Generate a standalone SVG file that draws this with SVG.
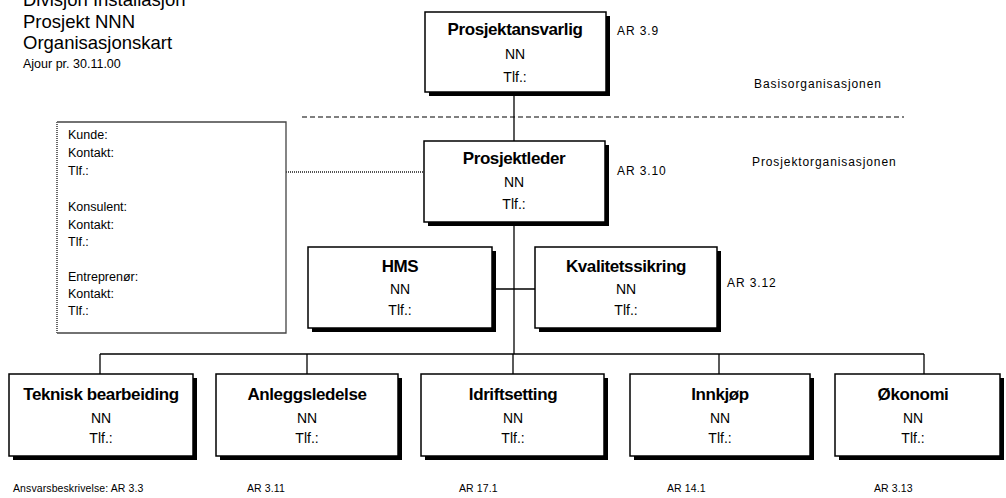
<svg xmlns="http://www.w3.org/2000/svg" width="1006" height="498" viewBox="0 0 1006 498">
  <style>
    text { font-family: "Liberation Sans", Arial, sans-serif; fill: #000; }
    .hdr { font-size: 18.5px; }
    .small { font-size: 12.5px; }
    .lbl { font-size: 12px; letter-spacing: 0.9px; }
    .foot { font-size: 10.5px; letter-spacing: 0.1px; }
    .ttl { font-size: 17px; font-weight: bold; text-anchor: middle; letter-spacing: -0.4px; }
    .sub { font-size: 14px; text-anchor: middle; }
    .box { fill: #fff; stroke: #000; stroke-width: 1.5; }
    .shadow { fill: #000; }
    .conn { stroke: #000; stroke-width: 1.3; fill: none; }
    .ctxt { font-size: 12.5px; }
  </style>

  <rect width="1006" height="498" fill="#fff"/>

  <!-- heading -->
  <g id="heading">
    <text class="hdr" x="23" y="6">Divisjon Installasjon</text>
    <text class="hdr" x="23" y="28">Prosjekt NNN</text>
    <text class="hdr" x="23" y="49">Organisasjonskart</text>
    <text class="small" x="23" y="68">Ajour pr. 30.11.00</text>
  </g>

  <!-- connectors -->
  <g id="connectors">
    <line class="conn" x1="514" y1="92" x2="514" y2="354"/>
    <line class="conn" x1="493" y1="289" x2="535" y2="289"/>
    <line class="conn" x1="100" y1="354" x2="924" y2="354"/>
    <line class="conn" x1="100" y1="354" x2="100" y2="374"/>
    <line class="conn" x1="307" y1="354" x2="307" y2="374"/>
    <line class="conn" x1="513" y1="354" x2="513" y2="374"/>
    <line class="conn" x1="719" y1="354" x2="719" y2="374"/>
    <line class="conn" x1="924" y1="354" x2="924" y2="374"/>
    <!-- dotted link from contacts box to project manager -->
    <line x1="286" y1="172" x2="424" y2="172" stroke="#555" stroke-width="2" stroke-dasharray="1,1"/>
  </g>

  <!-- boundary between base and project organisation -->
  <g id="divider">
    <line x1="302" y1="117" x2="904" y2="117" stroke="#000" stroke-width="1.2" stroke-dasharray="5,3"/>
    <text class="lbl" x="754" y="88">Basisorganisasjonen</text>
    <text class="lbl" x="752" y="166">Prosjektorganisasjonen</text>
  </g>

  <!-- contacts box -->
  <g id="kontakter">
    <rect x="57" y="122" width="229" height="211" fill="#fff"/>
    <path d="M57 122 H286 V333 H57" fill="none" stroke="#444" stroke-width="1.3"/>
    <line x1="57" y1="122" x2="57" y2="333" stroke="#666" stroke-width="2" stroke-dasharray="1,1"/>
    <text class="ctxt" x="68" y="139">Kunde:</text>
    <text class="ctxt" x="68" y="157">Kontakt:</text>
    <text class="ctxt" x="68" y="175">Tlf.:</text>
    <text class="ctxt" x="68" y="211">Konsulent:</text>
    <text class="ctxt" x="68" y="229">Kontakt:</text>
    <text class="ctxt" x="68" y="246">Tlf.:</text>
    <text class="ctxt" x="68" y="281">Entreprenør:</text>
    <text class="ctxt" x="68" y="298">Kontakt:</text>
    <text class="ctxt" x="68" y="315">Tlf.:</text>
  </g>

  <g id="prosjektansvarlig">
    <rect class="shadow" x="429" y="16" width="181" height="80"/>
    <rect class="box" x="425" y="12" width="181" height="80"/>
    <text class="ttl" x="515" y="35">Prosjektansvarlig</text>
    <text class="sub" x="515" y="59">NN</text>
    <text class="sub" x="515" y="82">Tlf.:</text>
    <text class="lbl" x="617" y="35">AR 3.9</text>
  </g>

  <g id="prosjektleder">
    <rect class="shadow" x="428" y="145" width="181" height="81"/>
    <rect class="box" x="424" y="141" width="181" height="81"/>
    <text class="ttl" x="514" y="164">Prosjektleder</text>
    <text class="sub" x="514" y="187">NN</text>
    <text class="sub" x="514" y="209">Tlf.:</text>
    <text class="lbl" x="617" y="175">AR 3.10</text>
  </g>

  <g id="hms">
    <rect class="shadow" x="312" y="251" width="184" height="81"/>
    <rect class="box" x="308" y="247" width="184" height="81"/>
    <text class="ttl" x="400" y="272">HMS</text>
    <text class="sub" x="400" y="294">NN</text>
    <text class="sub" x="400" y="315">Tlf.:</text>
  </g>

  <g id="kvalitetssikring">
    <rect class="shadow" x="539" y="251" width="182" height="81"/>
    <rect class="box" x="535" y="247" width="182" height="81"/>
    <text class="ttl" x="626" y="272">Kvalitetssikring</text>
    <text class="sub" x="626" y="294">NN</text>
    <text class="sub" x="626" y="315">Tlf.:</text>
    <text class="lbl" x="727" y="287">AR 3.12</text>
  </g>

  <g id="teknisk">
    <rect class="shadow" x="13" y="378" width="184" height="82"/>
    <rect class="box" x="9" y="374" width="184" height="82"/>
    <text class="ttl" x="101" y="400">Teknisk bearbeiding</text>
    <text class="sub" x="101" y="423">NN</text>
    <text class="sub" x="101" y="443">Tlf.:</text>
    <text class="foot" x="13" y="492">Ansvarsbeskrivelse: AR 3.3</text>
  </g>

  <g id="anleggsledelse">
    <rect class="shadow" x="220" y="378" width="182" height="82"/>
    <rect class="box" x="216" y="374" width="182" height="82"/>
    <text class="ttl" x="307" y="400">Anleggsledelse</text>
    <text class="sub" x="307" y="423">NN</text>
    <text class="sub" x="307" y="443">Tlf.:</text>
    <text class="foot" x="247" y="492">AR 3.11</text>
  </g>

  <g id="idriftsetting">
    <rect class="shadow" x="425" y="378" width="183" height="82"/>
    <rect class="box" x="421" y="374" width="183" height="82"/>
    <text class="ttl" x="513" y="400">Idriftsetting</text>
    <text class="sub" x="513" y="423">NN</text>
    <text class="sub" x="513" y="443">Tlf.:</text>
    <text class="foot" x="459" y="492">AR 17.1</text>
  </g>

  <g id="innkjop">
    <rect class="shadow" x="634" y="378" width="180" height="82"/>
    <rect class="box" x="630" y="374" width="180" height="82"/>
    <text class="ttl" x="720" y="400">Innkjøp</text>
    <text class="sub" x="720" y="423">NN</text>
    <text class="sub" x="720" y="443">Tlf.:</text>
    <text class="foot" x="667" y="492">AR 14.1</text>
  </g>

  <g id="okonomi">
    <rect class="shadow" x="839" y="378" width="165" height="82"/>
    <rect class="box" x="835" y="374" width="165" height="82"/>
    <text class="ttl" x="913" y="400">Økonomi</text>
    <text class="sub" x="913" y="423">NN</text>
    <text class="sub" x="913" y="443">Tlf.:</text>
    <text class="foot" x="874" y="492">AR 3.13</text>
  </g>
</svg>
